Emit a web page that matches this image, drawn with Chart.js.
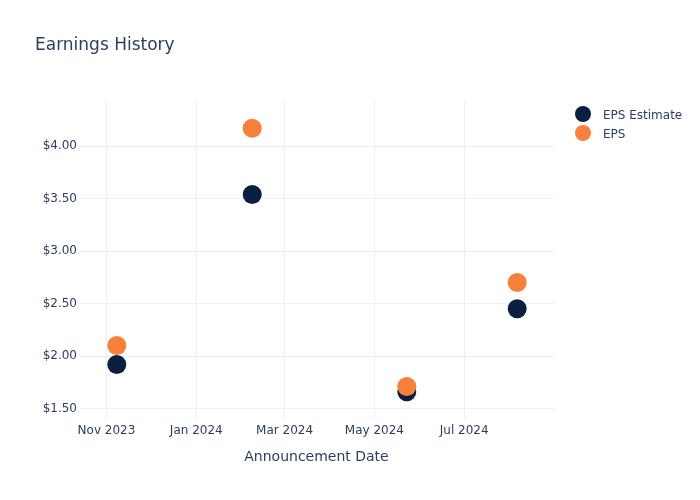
<!DOCTYPE html>
<html>
<head>
<meta charset="utf-8">
<script src="https://cdn.jsdelivr.net/npm/chart.js"></script>
<style>
  html, body { margin: 0; padding: 0; background: #fff; }
  #wrap { position: relative; width: 700px; height: 500px; font-family: "DejaVu Sans", sans-serif; color: #2a3f5f; }
  #chart { position: absolute; left: 0; top: 0; }
  .title { position: absolute; left: 35px; top: 34px; font-size: 17px; }
  .xtitle { position: absolute; left: 80px; width: 473px; top: 448px; text-align: center; font-size: 14px; }
  .legend { position: absolute; left: 575px; top: 106px; font-size: 12px; }
  .legend div { height: 19px; line-height: 19px; white-space: nowrap; }
  .legend span.dot { display: inline-block; width: 16px; height: 16px; border-radius: 50%; vertical-align: middle; margin-right: 12px; margin-top: -3px; }
</style>
</head>
<body>
<div id="wrap">
  <canvas id="chart" width="700" height="500"></canvas>
  <div class="title">Earnings History</div>
  <div class="xtitle">Announcement Date</div>
  <div class="legend" id="legend"></div>
</div>
<script>
// announcement dates and values
const dates = ['2023-11-08', '2024-02-08', '2024-05-23', '2024-08-06'];
const epsEstimate = [1.92, 3.54, 1.66, 2.45];
const eps = [2.10, 4.17, 1.71, 2.70];

// month ticks shown on the x axis
const xTickDates = ['2023-11-01', '2024-01-01', '2024-03-01', '2024-05-01', '2024-07-01'];
const xTickLabels = ['Nov 2023', 'Jan 2024', 'Mar 2024', 'May 2024', 'Jul 2024'];
const yTicks = [1.5, 2, 2.5, 3, 3.5, 4];

const navy = '#0b1f41';
const orange = '#f7803a';
const gridColor = '#ebf0f8';
const textColor = '#2a3f5f';

const toTime = s => new Date(s + 'T00:00:00Z').getTime();

const series = [
  { label: 'EPS Estimate', values: epsEstimate, color: navy },
  { label: 'EPS', values: eps, color: orange }
];

// legend (html)
document.getElementById('legend').innerHTML = series.map(s =>
  `<div><span class="dot" style="background:${s.color}"></span>${s.label}</div>`
).join('');

const ctx = document.getElementById('chart').getContext('2d');
new Chart(ctx, {
  type: 'scatter',
  data: {
    datasets: series.map((s, i) => ({
      label: s.label,
      data: dates.map((d, j) => ({ x: toTime(d), y: s.values[j] })),
      backgroundColor: s.color,
      borderColor: s.color,
      borderWidth: 0,
      pointRadius: 9.5,
      pointHoverRadius: 9.5,
      order: i === 1 ? 0 : 1 // EPS drawn on top
    }))
  },
  options: {
    responsive: false,
    animation: false,
    layout: { padding: { top: 100, right: 146, bottom: 0, left: 0 } },
    plugins: {
      legend: { display: false },
      title: { display: false },
      tooltip: { enabled: false }
    },
    scales: {
      x: {
        type: 'linear',
        min: toTime('2023-10-14'),
        max: toTime('2024-08-31'),
        border: { display: false },
        grid: { color: gridColor, drawTicks: false, lineWidth: 1 },
        afterFit: scale => { scale.height = 81; },
        afterBuildTicks: scale => {
          scale.ticks = xTickDates.map(d => ({ value: toTime(d) }));
        },
        ticks: {
          padding: 5,
          maxRotation: 0,
          autoSkip: false,
          color: textColor,
          font: { family: 'DejaVu Sans', size: 12 },
          callback: value => {
            const i = xTickDates.findIndex(d => toTime(d) === value);
            return i >= 0 ? xTickLabels[i] : '';
          }
        }
      },
      y: {
        min: 1.40,
        max: 4.44,
        border: { display: false },
        grid: { color: gridColor, drawTicks: false, lineWidth: 1 },
        afterFit: scale => { scale.width = 80; },
        afterBuildTicks: scale => {
          scale.ticks = yTicks.map(v => ({ value: v }));
        },
        ticks: {
          padding: 3,
          color: textColor,
          font: { family: 'DejaVu Sans', size: 12 },
          callback: v => '$' + Number(v).toFixed(2)
        }
      }
    }
  }
});
</script>
</body>
</html>
